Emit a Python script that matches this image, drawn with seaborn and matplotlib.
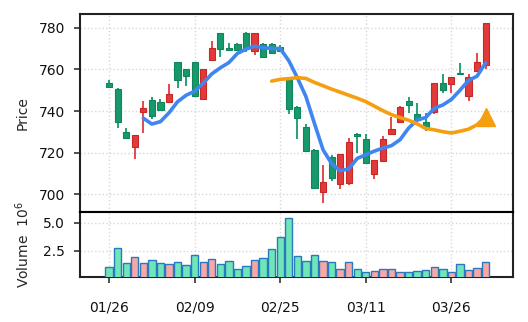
import numpy as np
import pandas as pd
import matplotlib
matplotlib.use("Agg")
import matplotlib.pyplot as plt
import seaborn as sns

# ---- data ----
opens = [753.4, 750.6, 730.1, 722.6, 739.7, 745.3, 744.2, 744.5, 763.4, 760.0,
         763.4, 745.6, 764.5, 777.3, 770.1, 772.0, 777.6, 769.0, 772.0, 772.0,
         770.6, 754.9, 742.1, 732.2, 721.3, 701.0, 718.1, 705.0, 705.6, 729.0,
         726.4, 709.8, 716.0, 729.0, 734.6, 745.0, 738.4, 734.9, 739.7, 753.3,
         753.0, 758.4, 747.4, 759.4, 762.1]
highs = [754.7, 751.2, 731.7, 728.3, 745.0, 746.6, 745.6, 753.0, 763.6, 760.2,
         763.6, 760.2, 773.6, 777.6, 772.5, 772.5, 777.9, 777.5, 772.8, 772.5,
         771.7, 755.5, 742.3, 733.6, 721.6, 714.1, 718.9, 719.4, 727.2, 729.6,
         729.0, 716.7, 728.0, 737.3, 742.6, 746.6, 743.7, 738.9, 753.5, 757.8,
         756.4, 763.2, 757.8, 768.0, 782.3]
lows = [751.2, 732.0, 726.7, 717.1, 729.3, 736.0, 740.2, 744.3, 751.2, 752.0,
        746.9, 745.3, 764.2, 766.1, 769.0, 769.0, 768.5, 766.9, 765.6, 767.2,
        768.5, 738.4, 726.4, 720.6, 702.7, 696.0, 706.6, 702.4, 704.5, 720.0,
        714.7, 707.2, 715.8, 728.3, 734.4, 739.2, 733.3, 730.4, 738.6, 748.8,
        748.8, 757.1, 745.0, 759.2, 760.0]
closes = [751.7, 734.6, 726.9, 728.3, 741.3, 737.6, 740.5, 748.0, 754.9, 756.8,
          747.2, 760.0, 770.1, 769.6, 769.3, 769.3, 770.1, 777.3, 765.8, 767.7,
          769.0, 740.8, 736.5, 720.8, 702.9, 706.1, 707.7, 719.2, 725.3, 728.0,
          714.9, 716.5, 726.4, 731.2, 742.1, 742.9, 735.7, 732.5, 753.3, 750.1,
          756.2, 757.6, 756.2, 763.4, 782.1]
volumes = [1.06, 2.74, 1.41, 1.94, 1.41, 1.68, 1.41, 1.29, 1.50, 1.24,
           2.12, 1.50, 1.76, 1.32, 1.59, 0.88, 1.15, 1.68, 1.85, 2.65,
           3.71, 5.39, 2.00, 1.56, 2.12, 1.59, 1.50, 0.88, 1.50, 0.88,
           0.62, 0.71, 0.85, 0.85, 0.58, 0.58, 0.71, 0.79, 1.06, 0.88,
           0.62, 1.32, 0.79, 0.97, 1.50]  # millions
tick_index = [0, 10, 20, 30, 40]
tick_labels = ["01/26", "02/09", "02/25", "03/11", "03/26"]

# ---- style ----
RED, RED_EDGE = "#e13a3a", "#c92626"
GREEN, GREEN_EDGE = "#17996b", "#0f865b"
VOL_UP, VOL_DOWN, VOL_EDGE = "#f7a8a6", "#6ee6b7", "#2a78c0"
BLUE, ORANGE = "#3f86f2", "#f59f10"
SPINE = "#222222"

sns.set_theme(style="ticks")
plt.rcParams["font.family"] = ["DejaVu Sans"]
plt.rcParams["font.size"] = 10

df = pd.DataFrame({
    "idx": np.arange(len(closes)),
    "open": opens, "high": highs, "low": lows, "close": closes,
    "volume": volumes,
})
df["up"] = df["close"] >= df["open"]
df["ma5"] = df["close"].rolling(5).mean()
df["ma20"] = df["close"].rolling(20).mean()

fig = plt.figure(figsize=(5.28, 3.22), dpi=100)
W, H = 528, 322
left, right = 80 / W, 513 / W
ax = fig.add_axes([left, 1 - 211.7 / H, right - left, (211.7 - 14.3) / H])
axv = fig.add_axes([left, 1 - 276.7 / H, right - left, (276.7 - 211.7) / H], sharex=ax)

# candles
body_col = np.where(df["up"], RED, GREEN)
edge_col = np.where(df["up"], RED_EDGE, GREEN_EDGE)
ax.vlines(df["idx"], df["low"], df["high"], colors=body_col, lw=1.3, zorder=2)
ax.bar(df["idx"], (df["close"] - df["open"]).abs(),
       bottom=np.minimum(df["open"], df["close"]), width=0.72,
       color=body_col, edgecolor=edge_col, linewidth=0.8, zorder=3)

# moving averages
sns.lineplot(data=df, x="idx", y="ma5", ax=ax, color=BLUE, lw=2.6, zorder=4)
sns.lineplot(data=df, x="idx", y="ma20", ax=ax, color=ORANGE, lw=2.6, zorder=4)
last = df.dropna(subset=["ma20"]).iloc[-1]
ax.plot([last["idx"]], [last["ma20"]], marker="^", ms=12.5, color=ORANGE,
        lw=0, zorder=5)

# volume
sns.barplot(data=df, x="idx", y="volume", hue="up", native_scale=True,
            palette={True: VOL_UP, False: VOL_DOWN}, dodge=False,
            saturation=1, errorbar=None, width=0.86, edgecolor=VOL_EDGE,
            linewidth=1.0, legend=False, ax=axv, zorder=3)

# axes styling
for a in (ax, axv):
    for s in a.spines.values():
        s.set_color(SPINE)
        s.set_linewidth(1.5)
    a.grid(True, ls=":", color="#d8d8d8", lw=1.0)
    a.set_axisbelow(True)
    a.tick_params(axis="y", direction="out", length=4.3, width=1.1,
                  color=SPINE, labelsize=10, pad=6.5, labelcolor="#111111")

ax.set_xlim(-3.4, 47.2)
ax.set_ylim(691.7, 786.4)
ax.set_yticks([700, 720, 740, 760, 780])
ax.set_xticks(tick_index)
ax.tick_params(axis="x", bottom=False, labelbottom=False)
ax.set_xlabel("")
ax.set_ylabel("Price", fontsize=10)
ax.yaxis.set_label_coords(-0.116, 0.5)

axv.set_ylim(0.2, 5.98)
axv.set_yticks([2.5, 5.0])
axv.set_yticklabels(["2.5", "5.0"])
axv.set_xticks(tick_index)
axv.set_xticklabels(tick_labels)
axv.tick_params(axis="x", direction="out", length=4.3, width=1.1,
                color=SPINE, labelsize=10, pad=12.5, labelcolor="#111111")
axv.set_xlabel("")
axv.set_ylabel("Volume  $10^{6}$", fontsize=10)
axv.yaxis.set_label_coords(-0.112, 0.5)
axv.spines["top"].set_color("#000000")

fig.savefig("out.png", dpi=100)
